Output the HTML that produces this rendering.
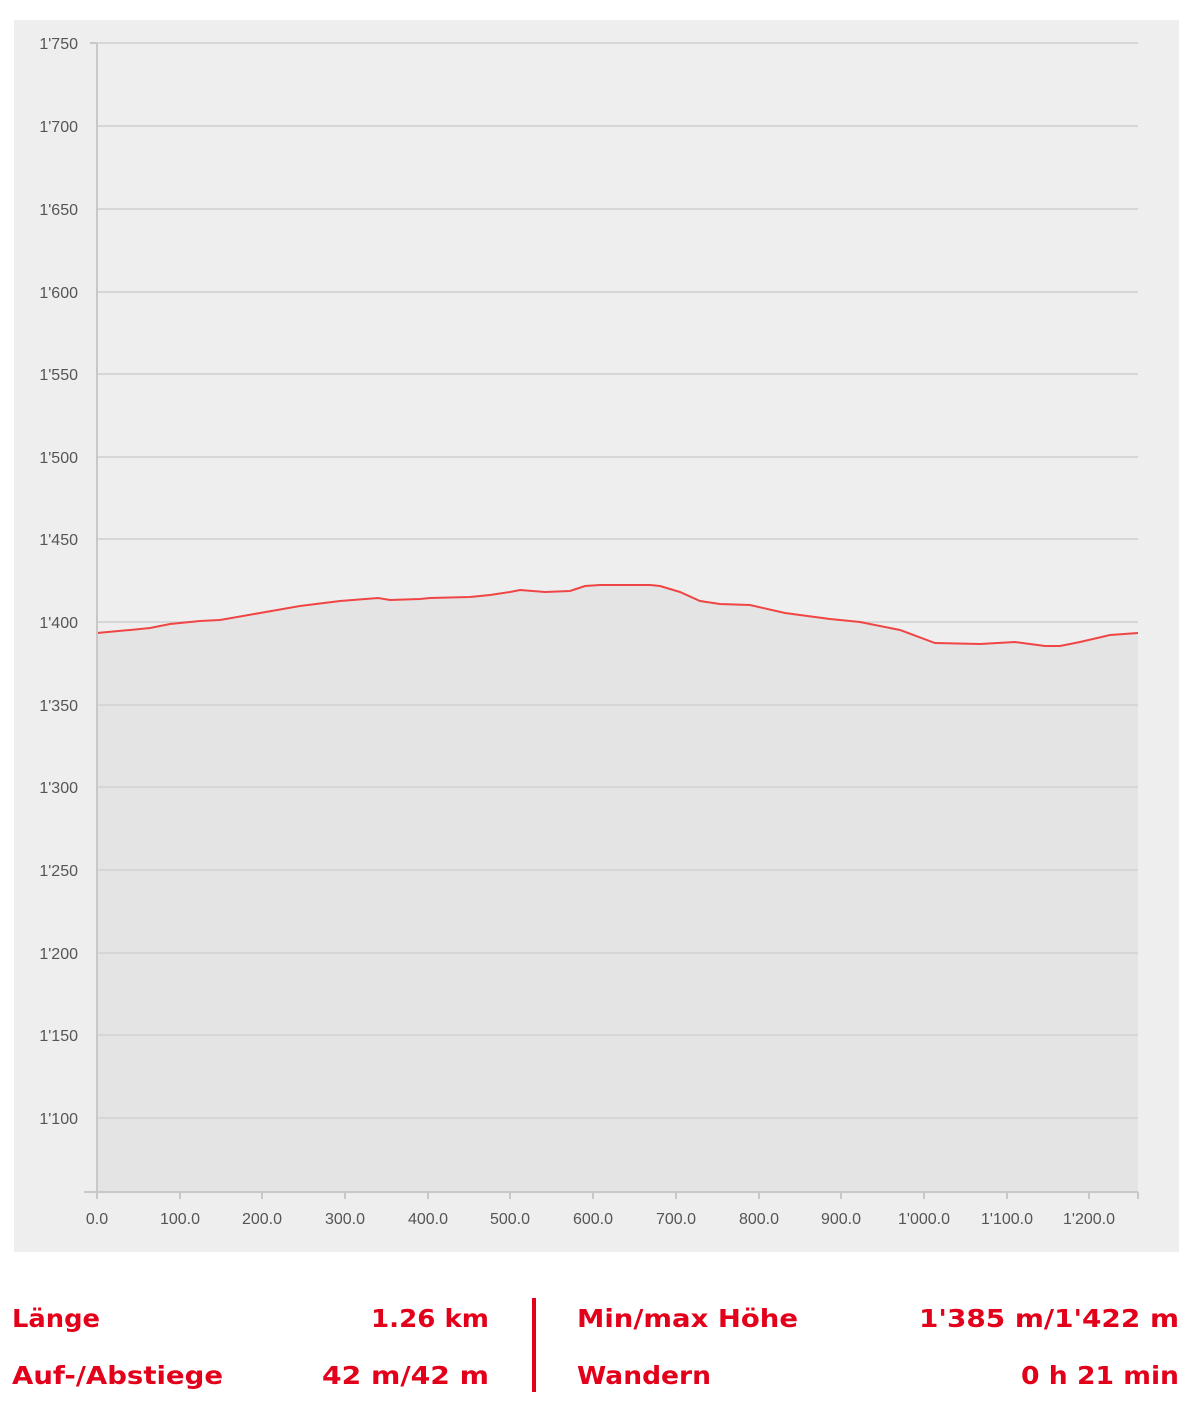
<!DOCTYPE html>
<html><head><meta charset="utf-8"><style>
body{margin:0;background:#fff;width:1200px;height:1413px;overflow:hidden;font-family:"Liberation Sans",sans-serif}
</style></head><body>
<svg width="1200" height="1413" xmlns="http://www.w3.org/2000/svg" style="position:absolute;left:0;top:0">
<rect x="14" y="20" width="1165" height="1232" fill="#eeeeee"/>
<g stroke="#d6d6d6" stroke-width="2">
<line x1="97" x2="1138" y1="43" y2="43"/><line x1="97" x2="1138" y1="126" y2="126"/>
<line x1="97" x2="1138" y1="209" y2="209"/><line x1="97" x2="1138" y1="292" y2="292"/>
<line x1="97" x2="1138" y1="374" y2="374"/><line x1="97" x2="1138" y1="457" y2="457"/>
<line x1="97" x2="1138" y1="539" y2="539"/><line x1="97" x2="1138" y1="622" y2="622"/>
</g>
<path d="M97,633 L130,630 L150,628 L170,624 L200,621 L220,620 L260,613 L300,606 L340,601 L378,598 L390,600 L420,599 L430,598 L470,597 L490,595 L510,592 L520,590 L545,592 L570,591 L585,586 L600,585 L650,585 L660,586 L680,592 L700,601 L720,604 L750,605 L785,613 L800,615 L830,619 L860,622 L900,630 L935,643 L980,644 L1015,642 L1045,646 L1060,646 L1080,642 L1110,635 L1138,633 L1138,1192 L97,1192 Z" fill="#e4e4e4"/>
<g stroke="#d6d6d6" stroke-width="2">
<line x1="97" x2="1138" y1="705" y2="705"/><line x1="97" x2="1138" y1="787" y2="787"/>
<line x1="97" x2="1138" y1="870" y2="870"/><line x1="97" x2="1138" y1="953" y2="953"/>
<line x1="97" x2="1138" y1="1035" y2="1035"/><line x1="97" x2="1138" y1="1118" y2="1118"/>
</g>
<path d="M97,633 L130,630 L150,628 L170,624 L200,621 L220,620 L260,613 L300,606 L340,601 L378,598 L390,600 L420,599 L430,598 L470,597 L490,595 L510,592 L520,590 L545,592 L570,591 L585,586 L600,585 L650,585 L660,586 L680,592 L700,601 L720,604 L750,605 L785,613 L800,615 L830,619 L860,622 L900,630 L935,643 L980,644 L1015,642 L1045,646 L1060,646 L1080,642 L1110,635 L1138,633" fill="none" stroke="#f04545" stroke-width="2"/>
<g stroke="#c8c8c8" stroke-width="2">
<line x1="97" y1="43" x2="97" y2="1192"/>
<line x1="84" y1="1192" x2="1138" y2="1192"/>
<line x1="90" x2="97" y1="43" y2="43"/>
<line x1="97" x2="97" y1="1192" y2="1199"/><line x1="180" x2="180" y1="1192" y2="1199"/>
<line x1="262" x2="262" y1="1192" y2="1199"/><line x1="345" x2="345" y1="1192" y2="1199"/>
<line x1="428" x2="428" y1="1192" y2="1199"/><line x1="510" x2="510" y1="1192" y2="1199"/>
<line x1="593" x2="593" y1="1192" y2="1199"/><line x1="676" x2="676" y1="1192" y2="1199"/>
<line x1="759" x2="759" y1="1192" y2="1199"/><line x1="841" x2="841" y1="1192" y2="1199"/>
<line x1="924" x2="924" y1="1192" y2="1199"/><line x1="1007" x2="1007" y1="1192" y2="1199"/>
<line x1="1089" x2="1089" y1="1192" y2="1199"/><line x1="1138" x2="1138" y1="1192" y2="1199"/>
</g>
<g fill="#555" font-size="16" text-anchor="end">
<text x="78" y="49">1'750</text><text x="78" y="132">1'700</text><text x="78" y="215">1'650</text>
<text x="78" y="298">1'600</text><text x="78" y="380">1'550</text><text x="78" y="463">1'500</text>
<text x="78" y="545">1'450</text><text x="78" y="628">1'400</text><text x="78" y="711">1'350</text>
<text x="78" y="793">1'300</text><text x="78" y="876">1'250</text><text x="78" y="959">1'200</text>
<text x="78" y="1041">1'150</text><text x="78" y="1124">1'100</text>
</g>
<g fill="#555" font-size="16" text-anchor="middle">
<text x="97" y="1224">0.0</text><text x="180" y="1224">100.0</text><text x="262" y="1224">200.0</text>
<text x="345" y="1224">300.0</text><text x="428" y="1224">400.0</text><text x="510" y="1224">500.0</text>
<text x="593" y="1224">600.0</text><text x="676" y="1224">700.0</text><text x="759" y="1224">800.0</text>
<text x="841" y="1224">900.0</text><text x="924" y="1224">1'000.0</text><text x="1007" y="1224">1'100.0</text>
<text x="1089" y="1224">1'200.0</text>
</g>
<g fill="#e2001a" font-size="25" font-weight="bold" font-family="DejaVu Sans, sans-serif">
<text x="12" y="1327" textLength="88" lengthAdjust="spacingAndGlyphs">Länge</text>
<text x="12" y="1384" textLength="211" lengthAdjust="spacingAndGlyphs">Auf-/Abstiege</text>
<text x="371" y="1327" textLength="118" lengthAdjust="spacingAndGlyphs">1.26 km</text>
<text x="322" y="1384" textLength="167" lengthAdjust="spacingAndGlyphs">42 m/42 m</text>
<text x="577" y="1327" textLength="221" lengthAdjust="spacingAndGlyphs">Min/max Höhe</text>
<text x="577" y="1384" textLength="134" lengthAdjust="spacingAndGlyphs">Wandern</text>
<text x="919" y="1327" textLength="260" lengthAdjust="spacingAndGlyphs">1'385 m/1'422 m</text>
<text x="1021" y="1384" textLength="158" lengthAdjust="spacingAndGlyphs">0 h 21 min</text>
</g>
<rect x="532" y="1298" width="4" height="94" fill="#e2001a"/>
</svg>
</body></html>
